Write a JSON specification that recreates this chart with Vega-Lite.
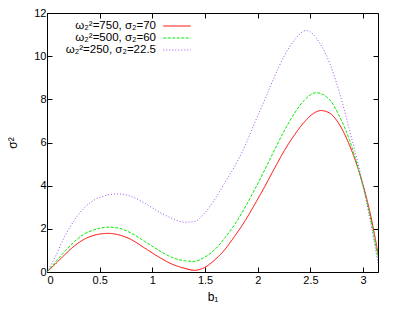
{
  "$schema": "https://vega.github.io/schema/vega-lite/v6.json",
  "width": 331,
  "height": 259,
  "autosize": {"type": "none"},
  "padding": {"left": 47, "top": 13, "right": 21, "bottom": 47},
  "background": "white",
  "config": {
    "font": "Liberation Sans",
    "view": {"stroke": "black", "strokeWidth": 1},
    "axis": {
      "grid": false,
      "domain": false,
      "tickSize": -5,
      "tickColor": "black",
      "labelFontSize": 11,
      "labelColor": "black",
      "titleFontSize": 12,
      "titleFontWeight": "normal",
      "titleColor": "black"
    },
    "legend": {
      "orient": "none",
      "legendX": 124,
      "legendY": 7,
      "symbolType": "M-2.5,0H2.5",
      "symbolSize": 121,
      "symbolStrokeWidth": 1,
      "labelAlign": "right",
      "labelOffset": -27,
      "labelFontSize": 11.5,
      "labelColor": "black",
      "padding": 0,
      "rowPadding": -1,
      "title": null
    }
  },
  "data": {
    "values": [
      {"series": "ω₂²=750,  σ₂=70", "b": 0, "s": 0},
      {"series": "ω₂²=750,  σ₂=70", "b": 0.073, "s": 0.34},
      {"series": "ω₂²=750,  σ₂=70", "b": 0.168, "s": 0.8},
      {"series": "ω₂²=750,  σ₂=70", "b": 0.263, "s": 1.22},
      {"series": "ω₂²=750,  σ₂=70", "b": 0.358, "s": 1.53},
      {"series": "ω₂²=750,  σ₂=70", "b": 0.453, "s": 1.71},
      {"series": "ω₂²=750,  σ₂=70", "b": 0.58, "s": 1.79},
      {"series": "ω₂²=750,  σ₂=70", "b": 0.674, "s": 1.73},
      {"series": "ω₂²=750,  σ₂=70", "b": 0.8, "s": 1.5},
      {"series": "ω₂²=750,  σ₂=70", "b": 0.927, "s": 1.11},
      {"series": "ω₂²=750,  σ₂=70", "b": 1.053, "s": 0.72},
      {"series": "ω₂²=750,  σ₂=70", "b": 1.18, "s": 0.38},
      {"series": "ω₂²=750,  σ₂=70", "b": 1.306, "s": 0.17},
      {"series": "ω₂²=750,  σ₂=70", "b": 1.4, "s": 0.08},
      {"series": "ω₂²=750,  σ₂=70", "b": 1.496, "s": 0.21},
      {"series": "ω₂²=750,  σ₂=70", "b": 1.59, "s": 0.55},
      {"series": "ω₂²=750,  σ₂=70", "b": 1.686, "s": 1.03},
      {"series": "ω₂²=750,  σ₂=70", "b": 1.78, "s": 1.65},
      {"series": "ω₂²=750,  σ₂=70", "b": 1.876, "s": 2.34},
      {"series": "ω₂²=750,  σ₂=70", "b": 1.97, "s": 3.12},
      {"series": "ω₂²=750,  σ₂=70", "b": 2.067, "s": 3.96},
      {"series": "ω₂²=750,  σ₂=70", "b": 2.16, "s": 4.81},
      {"series": "ω₂²=750,  σ₂=70", "b": 2.257, "s": 5.66},
      {"series": "ω₂²=750,  σ₂=70", "b": 2.35, "s": 6.36},
      {"series": "ω₂²=750,  σ₂=70", "b": 2.446, "s": 6.97},
      {"series": "ω₂²=750,  σ₂=70", "b": 2.53, "s": 7.35},
      {"series": "ω₂²=750,  σ₂=70", "b": 2.6, "s": 7.48},
      {"series": "ω₂²=750,  σ₂=70", "b": 2.683, "s": 7.36},
      {"series": "ω₂²=750,  σ₂=70", "b": 2.777, "s": 6.82},
      {"series": "ω₂²=750,  σ₂=70", "b": 2.87, "s": 5.89},
      {"series": "ω₂²=750,  σ₂=70", "b": 2.966, "s": 4.58},
      {"series": "ω₂²=750,  σ₂=70", "b": 3.06, "s": 2.88},
      {"series": "ω₂²=750,  σ₂=70", "b": 3.1416, "s": 0.88},
      {"series": "ω₂²=500,  σ₂=60", "b": 0, "s": 0},
      {"series": "ω₂²=500,  σ₂=60", "b": 0.073, "s": 0.42},
      {"series": "ω₂²=500,  σ₂=60", "b": 0.168, "s": 0.95},
      {"series": "ω₂²=500,  σ₂=60", "b": 0.263, "s": 1.42},
      {"series": "ω₂²=500,  σ₂=60", "b": 0.358, "s": 1.77},
      {"series": "ω₂²=500,  σ₂=60", "b": 0.453, "s": 1.96},
      {"series": "ω₂²=500,  σ₂=60", "b": 0.58, "s": 2.08},
      {"series": "ω₂²=500,  σ₂=60", "b": 0.674, "s": 2.04},
      {"series": "ω₂²=500,  σ₂=60", "b": 0.8, "s": 1.8},
      {"series": "ω₂²=500,  σ₂=60", "b": 0.927, "s": 1.42},
      {"series": "ω₂²=500,  σ₂=60", "b": 1.053, "s": 1.03},
      {"series": "ω₂²=500,  σ₂=60", "b": 1.18, "s": 0.69},
      {"series": "ω₂²=500,  σ₂=60", "b": 1.306, "s": 0.52},
      {"series": "ω₂²=500,  σ₂=60", "b": 1.4, "s": 0.49},
      {"series": "ω₂²=500,  σ₂=60", "b": 1.496, "s": 0.69},
      {"series": "ω₂²=500,  σ₂=60", "b": 1.59, "s": 1.03},
      {"series": "ω₂²=500,  σ₂=60", "b": 1.686, "s": 1.57},
      {"series": "ω₂²=500,  σ₂=60", "b": 1.78, "s": 2.19},
      {"series": "ω₂²=500,  σ₂=60", "b": 1.876, "s": 2.96},
      {"series": "ω₂²=500,  σ₂=60", "b": 1.97, "s": 3.81},
      {"series": "ω₂²=500,  σ₂=60", "b": 2.067, "s": 4.74},
      {"series": "ω₂²=500,  σ₂=60", "b": 2.16, "s": 5.66},
      {"series": "ω₂²=500,  σ₂=60", "b": 2.257, "s": 6.59},
      {"series": "ω₂²=500,  σ₂=60", "b": 2.35, "s": 7.36},
      {"series": "ω₂²=500,  σ₂=60", "b": 2.446, "s": 7.98},
      {"series": "ω₂²=500,  σ₂=60", "b": 2.556, "s": 8.31},
      {"series": "ω₂²=500,  σ₂=60", "b": 2.683, "s": 7.98},
      {"series": "ω₂²=500,  σ₂=60", "b": 2.777, "s": 7.2},
      {"series": "ω₂²=500,  σ₂=60", "b": 2.87, "s": 6.13},
      {"series": "ω₂²=500,  σ₂=60", "b": 2.966, "s": 4.58},
      {"series": "ω₂²=500,  σ₂=60", "b": 3.06, "s": 2.73},
      {"series": "ω₂²=500,  σ₂=60", "b": 3.1416, "s": 0.65},
      {"series": "ω₂²=250,  σ₂=22.5", "b": 0, "s": 0},
      {"series": "ω₂²=250,  σ₂=22.5", "b": 0.073, "s": 0.65},
      {"series": "ω₂²=250,  σ₂=22.5", "b": 0.168, "s": 1.65},
      {"series": "ω₂²=250,  σ₂=22.5", "b": 0.263, "s": 2.42},
      {"series": "ω₂²=250,  σ₂=22.5", "b": 0.358, "s": 3.0},
      {"series": "ω₂²=250,  σ₂=22.5", "b": 0.453, "s": 3.35},
      {"series": "ω₂²=250,  σ₂=22.5", "b": 0.547, "s": 3.53},
      {"series": "ω₂²=250,  σ₂=22.5", "b": 0.674, "s": 3.62},
      {"series": "ω₂²=250,  σ₂=22.5", "b": 0.8, "s": 3.5},
      {"series": "ω₂²=250,  σ₂=22.5", "b": 0.927, "s": 3.19},
      {"series": "ω₂²=250,  σ₂=22.5", "b": 1.053, "s": 2.81},
      {"series": "ω₂²=250,  σ₂=22.5", "b": 1.18, "s": 2.5},
      {"series": "ω₂²=250,  σ₂=22.5", "b": 1.306, "s": 2.31},
      {"series": "ω₂²=250,  σ₂=22.5", "b": 1.4, "s": 2.34},
      {"series": "ω₂²=250,  σ₂=22.5", "b": 1.496, "s": 2.73},
      {"series": "ω₂²=250,  σ₂=22.5", "b": 1.59, "s": 3.35},
      {"series": "ω₂²=250,  σ₂=22.5", "b": 1.686, "s": 4.12},
      {"series": "ω₂²=250,  σ₂=22.5", "b": 1.78, "s": 4.89},
      {"series": "ω₂²=250,  σ₂=22.5", "b": 1.876, "s": 5.81},
      {"series": "ω₂²=250,  σ₂=22.5", "b": 1.97, "s": 6.9},
      {"series": "ω₂²=250,  σ₂=22.5", "b": 2.067, "s": 7.98},
      {"series": "ω₂²=250,  σ₂=22.5", "b": 2.16, "s": 9.06},
      {"series": "ω₂²=250,  σ₂=22.5", "b": 2.257, "s": 10.06},
      {"series": "ω₂²=250,  σ₂=22.5", "b": 2.35, "s": 10.75},
      {"series": "ω₂²=250,  σ₂=22.5", "b": 2.46, "s": 11.19},
      {"series": "ω₂²=250,  σ₂=22.5", "b": 2.59, "s": 10.6},
      {"series": "ω₂²=250,  σ₂=22.5", "b": 2.683, "s": 9.68},
      {"series": "ω₂²=250,  σ₂=22.5", "b": 2.777, "s": 8.29},
      {"series": "ω₂²=250,  σ₂=22.5", "b": 2.87, "s": 6.59},
      {"series": "ω₂²=250,  σ₂=22.5", "b": 2.966, "s": 4.74},
      {"series": "ω₂²=250,  σ₂=22.5", "b": 3.06, "s": 2.57},
      {"series": "ω₂²=250,  σ₂=22.5", "b": 3.1416, "s": 0.42}
    ]
  },
  "layer": [
    {
      "mark": {"type": "line", "interpolate": "monotone", "strokeWidth": 1, "clip": true},
      "encoding": {
        "x": {
          "field": "b", "type": "quantitative",
          "scale": {"domain": [0, 3.14159], "nice": false, "zero": false},
          "axis": {"values": [0, 0.5, 1, 1.5, 2, 2.5, 3], "format": "~g", "title": "b₁", "labelPadding": 7, "titlePadding": 6}
        },
        "y": {
          "field": "s", "type": "quantitative",
          "scale": {"domain": [0, 12], "nice": false},
          "axis": {"values": [0, 2, 4, 6, 8, 10, 12], "format": "~g", "title": "σ²", "labelPadding": 6, "titlePadding": 14}
        },
        "color": {
          "field": "series", "type": "nominal",
          "scale": {"domain": ["ω₂²=750,  σ₂=70", "ω₂²=500,  σ₂=60", "ω₂²=250,  σ₂=22.5"], "range": ["#ff0000", "#00ee00", "#a050f0"]},
          "legend": {"title": null}
        },
        "strokeDash": {
          "field": "series", "type": "nominal",
          "scale": {"domain": ["ω₂²=750,  σ₂=70", "ω₂²=500,  σ₂=60", "ω₂²=250,  σ₂=22.5"], "range": [[1, 0], [3, 1.5], [1, 2]]},
          "legend": {"title": null}
        }
      }
    },
    {
      "mark": {"type": "line", "opacity": 0},
      "encoding": {
        "x": {"field": "b", "type": "quantitative", "axis": {"orient": "top", "values": [0, 0.5, 1, 1.5, 2, 2.5, 3], "labels": false, "title": null}},
        "y": {"field": "s", "type": "quantitative", "axis": {"orient": "right", "values": [0, 2, 4, 6, 8, 10, 12], "labels": false, "title": null}},
        "detail": {"field": "series"}
      }
    }
  ],
  "resolve": {"axis": {"x": "independent", "y": "independent"}}
}
